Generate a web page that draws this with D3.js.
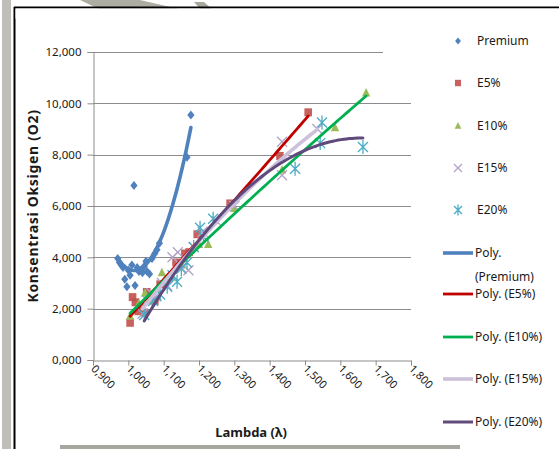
<!DOCTYPE html>
<html>
<head>
<meta charset="utf-8">
<script src="https://cdn.jsdelivr.net/npm/d3@7"></script>
<style>
  body { margin: 0; background: #fff; }
  svg { display: block; }
  text { font-family: "Noto Sans", "Liberation Sans", sans-serif; fill: #1a1a1a; }
</style>
</head>
<body>
<svg id="chart" width="559" height="449"></svg>
<script>
// Lambda (x) and oxygen concentration in % (y) for each fuel blend
const premiumLambda = [0.970, 0.975, 0.980, 0.985, 0.990, 0.996, 1.000, 1.005, 1.010, 1.016, 1.019, 1.025, 1.030, 1.035, 1.040, 1.045, 1.050, 1.053, 1.060, 1.067, 1.075, 1.081, 1.088, 1.166, 1.177];
const premiumO2     = [3.95, 3.80, 3.70, 3.60, 3.15, 2.85, 3.50, 3.30, 3.70, 6.80, 2.90, 3.60, 3.45, 3.50, 3.40, 3.65, 3.85, 3.45, 3.35, 3.95, 4.15, 4.30, 4.55, 7.90, 9.55];

const e5Lambda = [1.005, 1.012, 1.020, 1.028, 1.035, 1.045, 1.052, 1.060, 1.075, 1.090, 1.135, 1.160, 1.172, 1.195, 1.288, 1.429, 1.509];
const e5O2     = [1.45, 2.45, 2.25, 1.90, 2.05, 1.85, 2.65, 2.45, 2.30, 2.95, 3.80, 4.15, 4.20, 4.90, 6.10, 7.95, 9.65];

const e10Lambda = [1.005, 1.030, 1.047, 1.060, 1.080, 1.095, 1.120, 1.150, 1.200, 1.226, 1.300, 1.435, 1.585, 1.673];
const e10O2     = [1.70, 2.20, 2.60, 2.35, 2.75, 3.40, 3.20, 3.70, 4.50, 4.50, 5.90, 7.40, 9.05, 10.40];

const e15Lambda = [1.040, 1.055, 1.065, 1.080, 1.095, 1.110, 1.125, 1.140, 1.150, 1.170, 1.185, 1.210, 1.250, 1.300, 1.435, 1.435, 1.535];
const e15O2     = [1.80, 2.30, 2.60, 2.50, 3.00, 2.90, 4.00, 4.20, 3.60, 3.50, 4.40, 5.00, 5.40, 6.00, 8.50, 7.20, 9.00];

const e20Lambda = [1.045, 1.070, 1.090, 1.110, 1.125, 1.138, 1.150, 1.166, 1.185, 1.203, 1.213, 1.240, 1.472, 1.543, 1.548, 1.664];
const e20O2     = [1.75, 2.30, 2.55, 2.85, 3.30, 3.05, 3.55, 3.80, 4.40, 5.15, 4.80, 5.50, 7.45, 8.45, 9.25, 8.30];

const xTickValues = [0.9, 1.0, 1.1, 1.2, 1.3, 1.4, 1.5, 1.6, 1.7, 1.8];
const yTickValues = [0, 2, 4, 6, 8, 10, 12];

const seriesNames = ["Premium", "E5%", "E10%", "E15%", "E20%"];
const trendNames  = ["Poly.\n(Premium)", "Poly. (E5%)", "Poly. (E10%)", "Poly. (E15%)", "Poly. (E20%)"];
const trendOrders = [2, 2, 2, 2, 2];

// Styling per series
const markerColors = ["#4F81BD", "#C0504D", "#9BBB59", "#B3A2C7", "#4BACC6"];
const markerKinds  = ["diamond", "square", "triangle", "x", "star"];
const trendColors  = ["#4F81BD", "#C00000", "#00B050", "#CCC1DA", "#604A7B"];
const trendWidths  = [3.6, 2.8, 2.8, 3.6, 3.0];

const series = [
  { lambda: premiumLambda, o2: premiumO2 },
  { lambda: e5Lambda, o2: e5O2 },
  { lambda: e10Lambda, o2: e10O2 },
  { lambda: e15Lambda, o2: e15O2 },
  { lambda: e20Lambda, o2: e20O2 }
].map((s, i) => ({ ...s, name: seriesNames[i], color: markerColors[i], kind: markerKinds[i],
  trendColor: trendColors[i], trendWidth: trendWidths[i], trendName: trendNames[i], order: trendOrders[i] }));

const svg = d3.select("#chart");

// Comma as decimal separator
const locale = d3.formatLocale({ decimal: ",", thousands: ".", grouping: [3], currency: ["", ""] });
const fmt = locale.format(".3f");

const plot = { left: 93, right: 411, top: 52, bottom: 360 };
const x = d3.scaleLinear().domain([0.9, 1.8]).range([plot.left, plot.right]);
const y = d3.scaleLinear().domain([0, 12]).range([plot.bottom, plot.top]);

// Faint scanned backdrop: grey strip on the left, shapes at the top, frame
const deco = svg.append("g");
deco.append("rect").attr("x", 2).attr("y", 0).attr("width", 9).attr("height", 449)
  .attr("fill", "#b4b3ab").attr("opacity", 0.85);
deco.append("path").attr("d", "M80,0 L140,0 L218,18 L118,18 Z").attr("fill", "#aeada4");
deco.append("path").attr("d", "M194,2 L204,2 L222,18 L208,18 Z").attr("fill", "#a9a89f");
deco.append("rect").attr("x", 60).attr("y", 445).attr("width", 400).attr("height", 4)
  .attr("fill", "#a7a7a0");
deco.append("rect").attr("x", 0).attr("y", 18).attr("width", 559).attr("height", 427).attr("fill", "#fff")
  .attr("transform", "translate(15,0)");
deco.append("line").attr("x1", 14).attr("x2", 559).attr("y1", 7.5).attr("y2", 7.5)
  .attr("stroke", "#000").attr("stroke-width", 2);
deco.append("line").attr("x1", 14.5).attr("x2", 14.5).attr("y1", 7).attr("y2", 449)
  .attr("stroke", "#000").attr("stroke-width", 2);
deco.append("rect").attr("x", 15.5).attr("y", 8.5).attr("width", 544).attr("height", 10).attr("fill", "#fff");

// Gridlines
svg.append("g").selectAll("line").data(yTickValues.filter(v => v > 0)).join("line")
  .attr("x1", plot.left).attr("x2", d => d === 12 ? 383 : plot.right)
  .attr("y1", d => Math.round(y(d)) + 0.5).attr("y2", d => Math.round(y(d)) + 0.5)
  .attr("stroke", "#8c8c8c").attr("stroke-width", 1);

// Y axis
const yAxis = svg.append("g").attr("transform", `translate(${plot.left + 0.5},0)`)
  .call(d3.axisLeft(y).tickValues(yTickValues).tickFormat(fmt).tickSize(6).tickPadding(6));
yAxis.select(".domain").attr("stroke", "#8c8c8c");
yAxis.selectAll(".tick line").attr("stroke", "#8c8c8c");
yAxis.selectAll(".tick text").attr("font-size", 11.5).attr("font-family", "Noto Sans").attr("fill", "#1a1a1a");

// X axis with slanted labels
const xAxis = svg.append("g").attr("transform", `translate(0,${plot.bottom + 0.5})`)
  .call(d3.axisBottom(x).tickValues(xTickValues).tickFormat(fmt).tickSize(5));
xAxis.select(".domain").attr("stroke", "#8c8c8c");
xAxis.selectAll(".tick line").attr("stroke", "#8c8c8c");
xAxis.selectAll(".tick text")
  .attr("font-size", 11).attr("font-family", "Noto Sans").attr("fill", "#1a1a1a")
  .attr("text-anchor", "start").attr("dy", null).attr("y", 0)
  .attr("transform", "translate(-3,9) rotate(45)");

// Axis titles
svg.append("text").attr("x", 251).attr("y", 437).attr("text-anchor", "middle")
  .attr("font-size", 13).attr("font-weight", "bold").text("Lambda (λ)");
svg.append("text").attr("transform", "translate(38,206) rotate(-90)").attr("text-anchor", "middle")
  .attr("font-size", 14).attr("letter-spacing", 0.7).attr("font-weight", "bold").text("Konsentrasi Oksigen (O2)");

// Marker drawing
function drawMarker(g, kind, color, scale = 1) {
  const s = scale;
  if (kind === "diamond") {
    g.append("path").attr("d", `M0,${-4.5*s} L${3.6*s},0 L0,${4.5*s} L${-3.6*s},0 Z`).attr("fill", color);
  } else if (kind === "square") {
    g.append("rect").attr("x", -3.8*s).attr("y", -4*s).attr("width", 7.6*s).attr("height", 8*s)
      .attr("fill", color).attr("opacity", 0.9);
  } else if (kind === "triangle") {
    g.append("path").attr("d", `M0,${-5*s} L${4.2*s},${3.5*s} L${-4.2*s},${3.5*s} Z`).attr("fill", color);
  } else if (kind === "x") {
    const r = 5 * s;
    g.append("path").attr("d", `M${-r},${-r} L${r},${r} M${-r},${r} L${r},${-r}`)
      .attr("stroke", color).attr("stroke-width", 1.3).attr("fill", "none");
  } else if (kind === "star") {
    const r = 5 * s, h = 7 * s;
    g.append("path").attr("d", `M${-r},${-r} L${r},${r} M${-r},${r} L${r},${-r} M0,${-h} L0,${h}`)
      .attr("stroke", color).attr("stroke-width", 1.3).attr("fill", "none");
  }
}

// Scatter markers
const marks = svg.append("g");
series.forEach(s => {
  s.lambda.forEach((lx, i) => {
    const g = marks.append("g").attr("transform", `translate(${x(lx)},${y(s.o2[i])})`);
    drawMarker(g, s.kind, s.color);
  });
});

// Least-squares polynomial trendline ("Poly." in spreadsheet terms)
function polyfit(xs, ys, deg) {
  const n = deg + 1, xm = d3.mean(xs);
  const A = Array.from({ length: n }, () => new Array(n).fill(0));
  const b = new Array(n).fill(0);
  xs.forEach((xv, k) => {
    const t = xv - xm;
    for (let i = 0; i < n; i++) {
      b[i] += ys[k] * Math.pow(t, i);
      for (let j = 0; j < n; j++) A[i][j] += Math.pow(t, i + j);
    }
  });
  for (let c = 0; c < n; c++) {
    let p = c;
    for (let r = c + 1; r < n; r++) if (Math.abs(A[r][c]) > Math.abs(A[p][c])) p = r;
    [A[c], A[p]] = [A[p], A[c]]; [b[c], b[p]] = [b[p], b[c]];
    for (let r = c + 1; r < n; r++) {
      const f = A[r][c] / A[c][c];
      for (let k = c; k < n; k++) A[r][k] -= f * A[c][k];
      b[r] -= f * b[c];
    }
  }
  const coef = new Array(n).fill(0);
  for (let r = n - 1; r >= 0; r--) {
    let sum = b[r];
    for (let k = r + 1; k < n; k++) sum -= A[r][k] * coef[k];
    coef[r] = sum / A[r][r];
  }
  return xv => coef.reduce((acc, c, i) => acc + c * Math.pow(xv - xm, i), 0);
}

const line = d3.line().x(d => x(d[0])).y(d => y(d[1]));
const trends = svg.append("g");
series.forEach(s => {
  const f = polyfit(s.lambda, s.o2, s.order);
  const [lo, hi] = d3.extent(s.lambda);
  const pts = d3.range(0, 81).map(i => { const lx = lo + (hi - lo) * i / 80; return [lx, f(lx)]; });
  trends.append("path").attr("d", line(pts)).attr("fill", "none")
    .attr("stroke", s.trendColor).attr("stroke-width", s.trendWidth).attr("stroke-linecap", "round");
});

// Legend
const legend = svg.append("g");
const markerRowY = [41, 83, 126, 168, 210];
series.forEach((s, i) => {
  const g = legend.append("g").attr("transform", `translate(458,${markerRowY[i]})`);
  drawMarker(g, s.kind, s.color, 0.8);
  legend.append("text").attr("x", 477).attr("y", markerRowY[i]).attr("dy", "0.35em")
    .attr("font-size", 12).text(s.name);
});
const trendRowY = [253, 294, 337, 379, 422];
series.forEach((s, i) => {
  legend.append("line").attr("x1", 443).attr("x2", 473).attr("y1", trendRowY[i]).attr("y2", trendRowY[i])
    .attr("stroke", s.trendColor).attr("stroke-width", s.trendWidth);
  const parts = s.trendName.split("\n");
  const t = legend.append("text").attr("x", 475).attr("y", trendRowY[i]).attr("dy", "0.35em")
    .attr("font-size", 12);
  parts.forEach((p, k) => t.append("tspan").attr("x", 475).attr("dy", k === 0 ? "0.35em" : "1.95em").text(p));
});
</script>
</body>
</html>
